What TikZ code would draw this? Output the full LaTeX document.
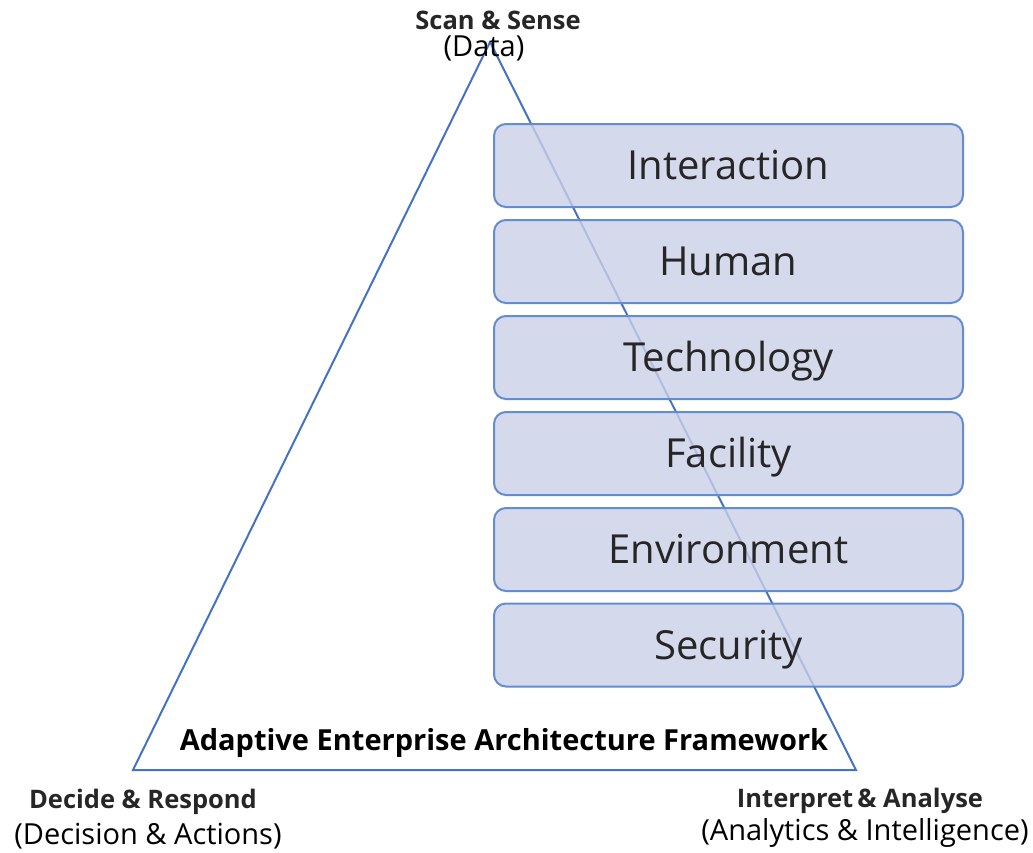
\documentclass[tikz,border=0pt]{standalone}
\usepackage{fontspec}
\setmainfont{Open Sans}
\definecolor{tri}{RGB}{68,114,196}
\definecolor{boxfill}{RGB}{202,207,231}
\definecolor{boxline}{RGB}{100,140,210}
\begin{document}
\begin{tikzpicture}[x=1pt,y=-1pt,
  layer/.style={draw=boxline,line width=2pt,fill=boxfill,fill opacity=0.8,text opacity=1,rounded corners=12pt,minimum width=469pt,minimum height=83pt,inner sep=0pt,font=\fontsize{40}{44}\selectfont,text=black!85,text height=28pt,text depth=0pt},
  headb/.style={font=\bfseries\fontsize{25.5}{28}\selectfont,text=black!85,inner sep=0pt},
  sub/.style={font=\fontsize{29}{32}\selectfont,text=black,inner sep=0pt}]
\useasboundingbox (0,0) rectangle (1033,852);
\coordinate (apex) at (490,42);
\coordinate (bl) at (133,770);
\coordinate (br) at (856,770);
\draw[tri,line width=2pt,line join=miter] (apex) -- (bl) -- (br) -- cycle;
\node[layer] (interaction) at (728.5,165.5) {Interaction};
\node[layer] (human) at (728.5,261.5) {Human};
\node[layer] (technology) at (728.5,357.5) {Technology};
\node[layer] (facility) at (728.5,453.5) {Facility};
\node[layer] (environment) at (728.5,549.5) {Environment};
\node[layer] (security) at (728.5,645) {Security};
\node[font=\bfseries\fontsize{29}{31}\selectfont,inner sep=0pt,text height=20.5pt,text depth=0pt] (aeaf) at (504,740) {Adaptive Enterprise Architecture Framework};
\node[headb] (scan) at (498,20) {Scan \& Sense};
\node[sub] (data) at (484,48) {(Data)};
\node[headb] (decide) at (143,802) {Decide \& Respond};
\node[sub] (decision) at (148,836) {(Decision \& Actions)};
\node[headb] (interp) at (860,801) {Interpret\,\& Analyse};
\node[sub] (analytics) at (865,833) {(Analytics \& Intelligence)};
\end{tikzpicture}
\end{document}
